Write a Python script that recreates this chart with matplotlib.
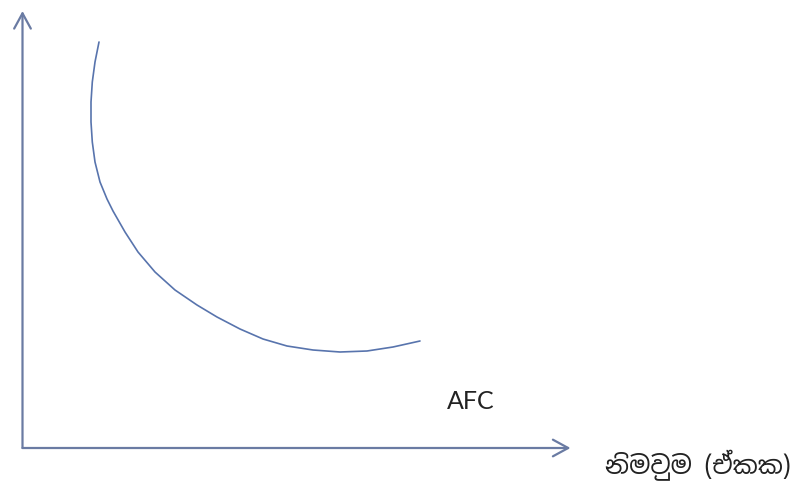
import matplotlib
matplotlib.use("Agg")
import matplotlib.pyplot as plt
from matplotlib import font_manager

# AFC curve (x = output, y = cost, origin at the axes corner)
output_units = [76.5, 72.5, 69.8, 68.5, 68.5, 69.8, 72.5, 77.5, 84.5, 90.5, 102.5, 115.5,
                132.5, 152.5, 174.5, 194.5, 217.5, 240.5, 264.5, 290.5, 317.5, 344.5,
                370.5, 397.5]
afc_values = [406, 386, 366, 346, 326, 306, 286, 266, 249, 237, 216, 196,
              176, 158, 143, 131, 119, 109, 102, 98, 96, 97,
              101, 107]

curve_label = "AFC"
x_axis_label = "නිමවුම (ඒකක)"

# axis extents in the same units
x_axis_end = 548
y_axis_end = 437

sinhala = [f.name for f in font_manager.fontManager.ttflist if "Sinhala" in f.name]
label_family = sinhala[:1] + ["Noto Sans", "DejaVu Sans"]

fig = plt.figure(figsize=(7.97, 4.85), dpi=100)
ax = fig.add_axes([0, 0, 1, 1])
ax.set_xlim(-22.5, 797 - 22.5)
ax.set_ylim(-(485 - 449), 449)
ax.axis("off")

axis_color = "#6a7ba3"
curve_color = "#5874ad"

arrow = dict(arrowstyle="->,head_length=1.1,head_width=0.6", color=axis_color, lw=1.6,
             shrinkA=0, shrinkB=0)
ax.annotate("", xy=(x_axis_end, 0), xytext=(0, 0), arrowprops=arrow)
ax.annotate("", xy=(0, y_axis_end), xytext=(0, 0), arrowprops=arrow)

ax.plot(output_units, afc_values, color=curve_color, lw=1.2,
        solid_capstyle="round", solid_joinstyle="round")

ax.text(424, 47, curve_label, fontsize=18, family=["Lato", "DejaVu Sans"],
        color="#222222", ha="left", va="center")
ax.text(675, -16, x_axis_label, fontsize=18, family=label_family,
        color="#222222", ha="center", va="center")

fig.savefig("out.png", dpi=100)
